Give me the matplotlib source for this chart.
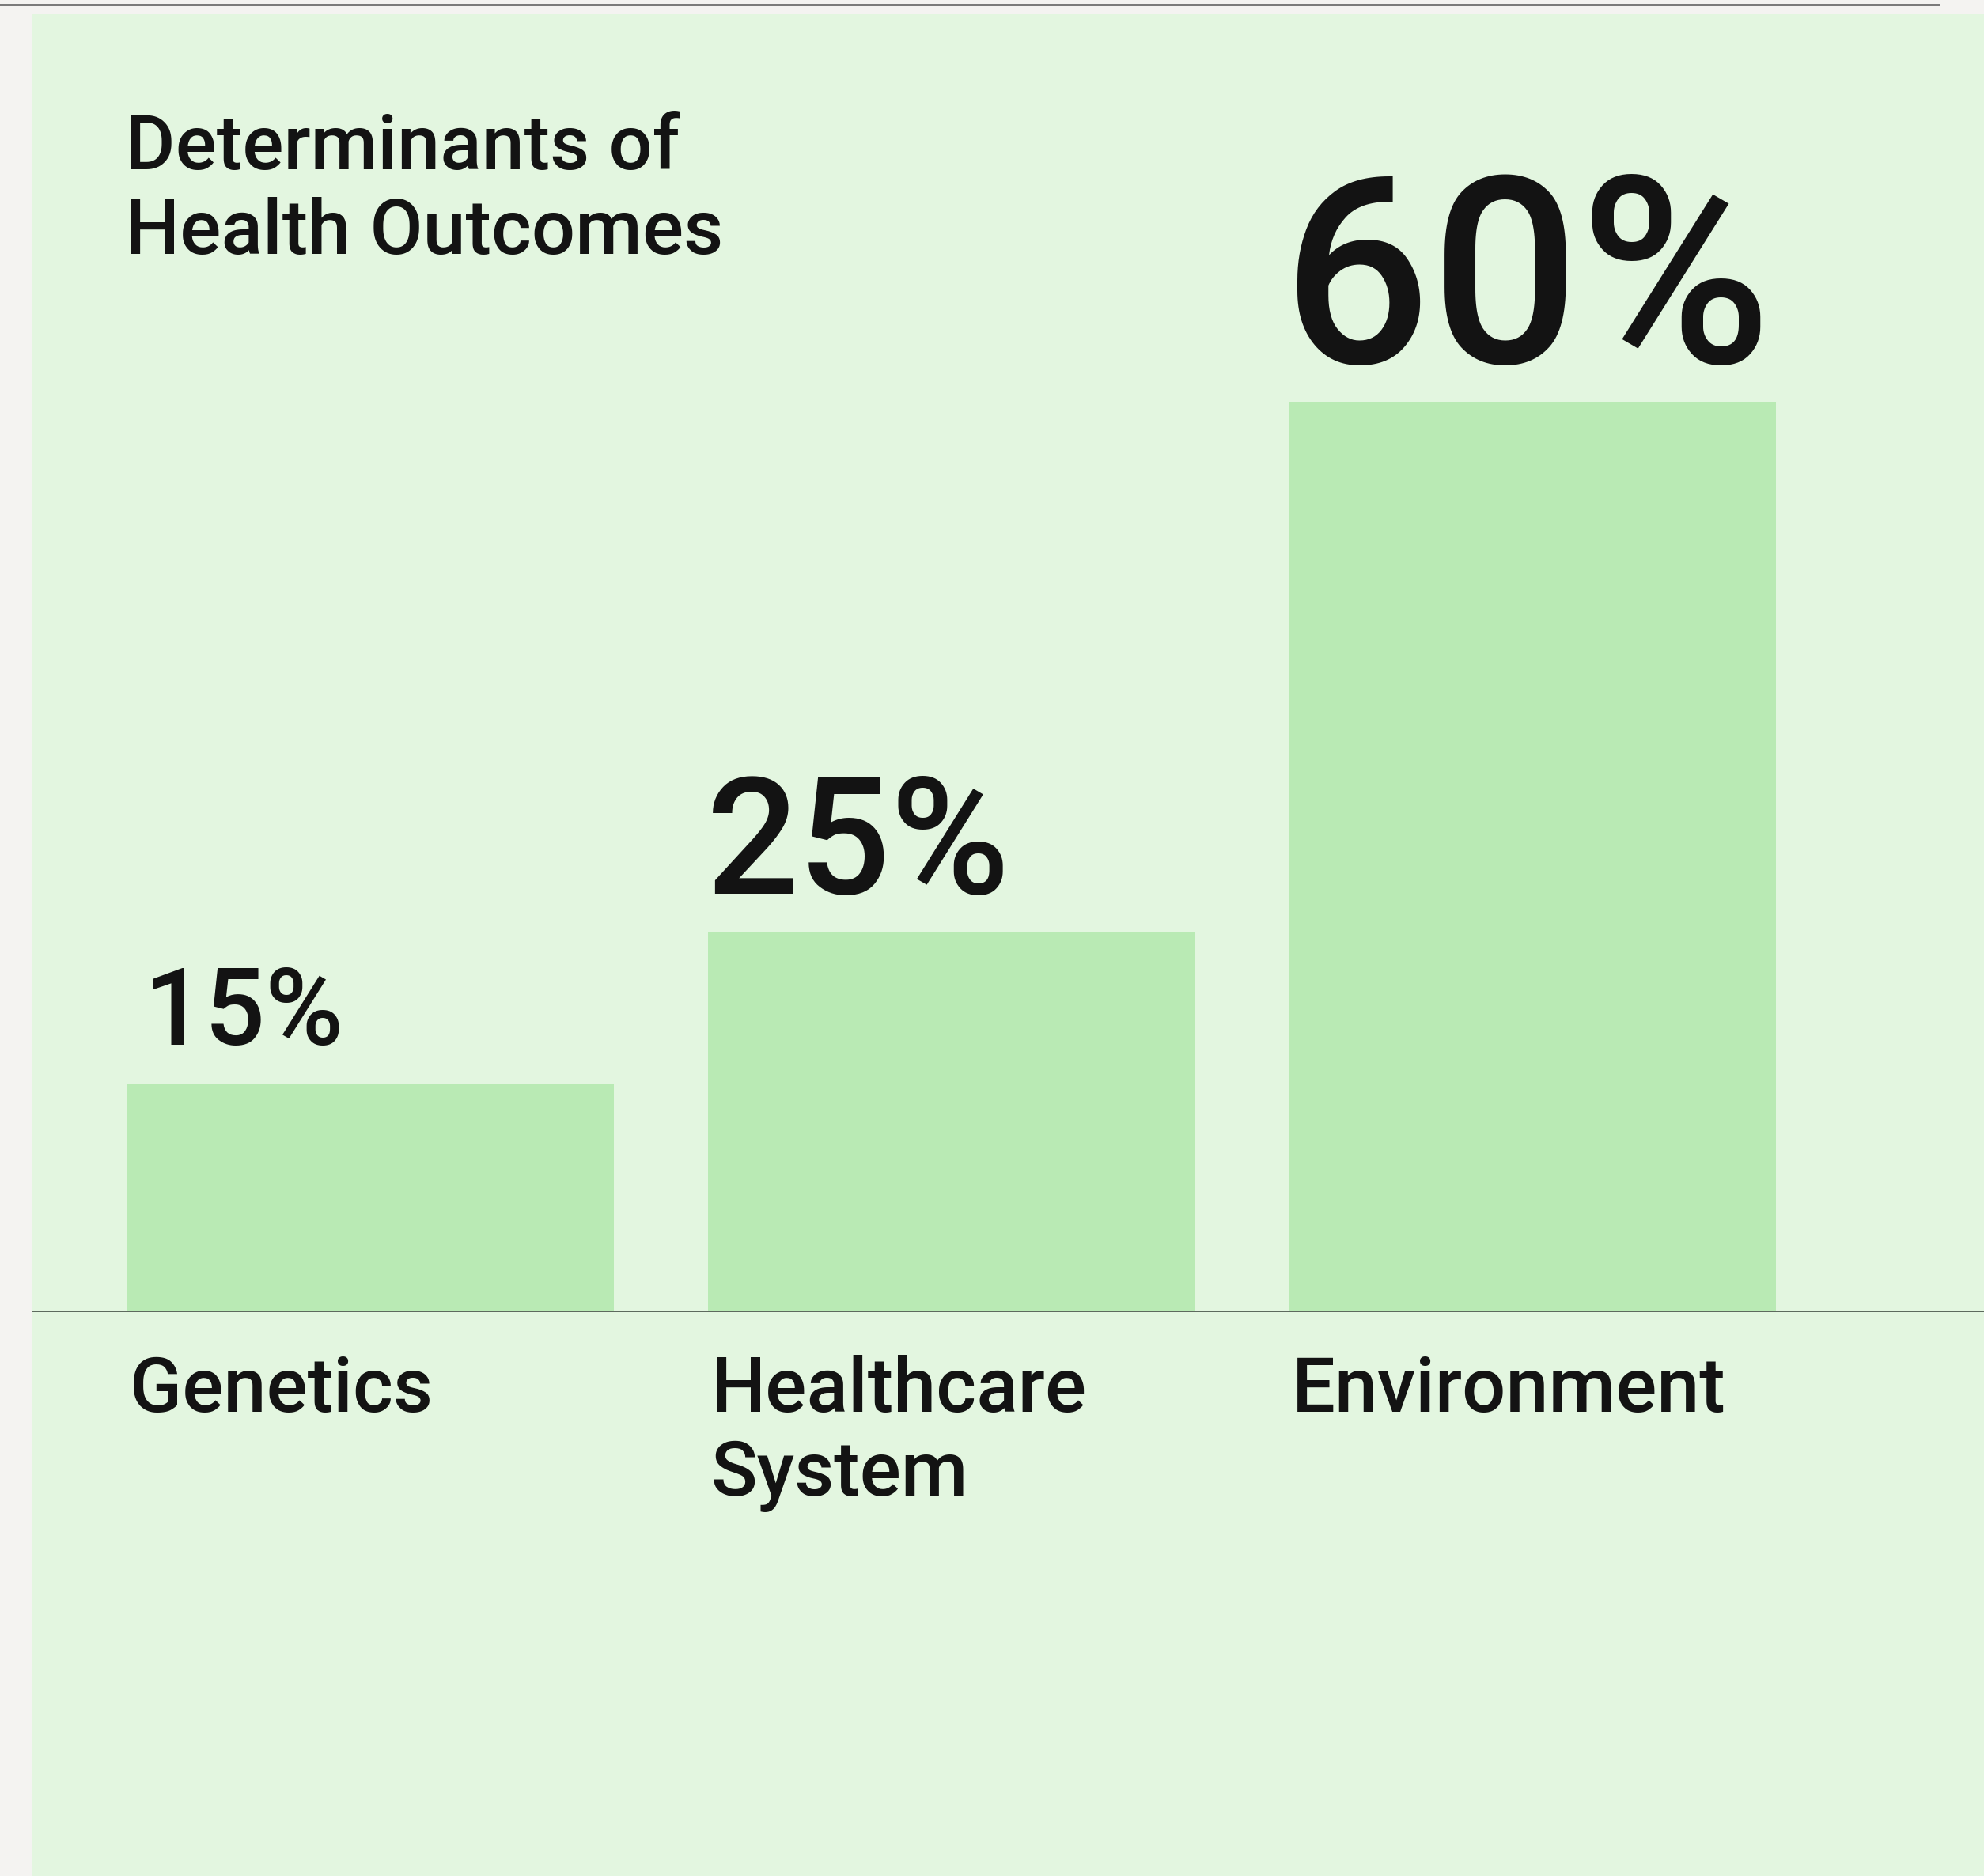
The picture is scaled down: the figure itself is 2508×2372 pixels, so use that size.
import matplotlib
matplotlib.use("Agg")
import matplotlib.pyplot as plt
from matplotlib.lines import Line2D

# ---- data ----
title_lines = ["Determinants of", "Health Outcomes"]
categories = ["Genetics", "Healthcare\nSystem", "Environment"]
values = [15, 25, 60]
value_labels = ["15%", "25%", "60%"]

# ---- styles ----
W, H, DPI = 2508, 2372, 100
PT = DPI / 72.0
bg_outer = "#f4f3f1"
bg_panel = "#e3f6e0"
bar_color = "#b9eab4"
text_color = "#131313"
axis_color = "#5d6a5e"
value_sizes = [97, 148, 238]
value_dx_px = [22, -2, -8]
label_size = 70
font = ["Roboto", "DejaVu Sans"]
weight = "medium"

fig = plt.figure(figsize=(W / DPI, H / DPI), dpi=DPI, facecolor=bg_outer)

# top grey rule
fig.add_artist(Line2D([0, 2453 / W], [1 - 6 / H, 1 - 6 / H], transform=fig.transFigure,
                      color="#7b7b7b", lw=2 / PT, solid_capstyle="butt"))

panel_left = 40 / W
panel_top = 18 / H
ax = fig.add_axes([panel_left, 0, 1 - panel_left, 1 - panel_top])
ax.set_facecolor(bg_panel)
for s in ax.spines.values():
    s.set_visible(False)
ax.set_xticks([])
ax.set_yticks([])

px_per_unit_y = 19.17
base_px = 1658
ax.set_ylim(-(H - base_px) / px_per_unit_y, (base_px - 18) / px_per_unit_y)
spacing = 734.5
c0 = 468
ax.set_xlim(-(c0 - 40) / spacing, (W - c0) / spacing)
bw = 616 / spacing

xs = list(range(len(categories)))
ax.bar(xs, values, width=bw, color=bar_color, zorder=1)
ax.axhline(0, color=axis_color, lw=2 / PT, zorder=2)

for x, v, lab, fs, dx in zip(xs, values, value_labels, value_sizes, value_dx_px):
    ax.annotate(lab, xy=(x - bw / 2, v), xytext=(dx / PT, 49 / PT), textcoords="offset points",
                ha="left", va="baseline", fontsize=fs, fontweight=weight,
                family=font, color=text_color)

for x, cat in zip(xs, categories):
    for i, line in enumerate(cat.split("\n")):
        ax.annotate(line, xy=(x - bw / 2, 0), xytext=(4 / PT, -(127 + 106 * i) / PT),
                    textcoords="offset points", ha="left", va="baseline",
                    fontsize=label_size, fontweight=weight, family=font, color=text_color)

for i, line in enumerate(title_lines):
    fig.text(158 / W, 1 - (214 + 107 * i) / H, line, ha="left", va="baseline",
             fontsize=label_size, fontweight=weight, family=font, color=text_color)

fig.savefig("out.png", dpi=DPI, facecolor=bg_outer)
